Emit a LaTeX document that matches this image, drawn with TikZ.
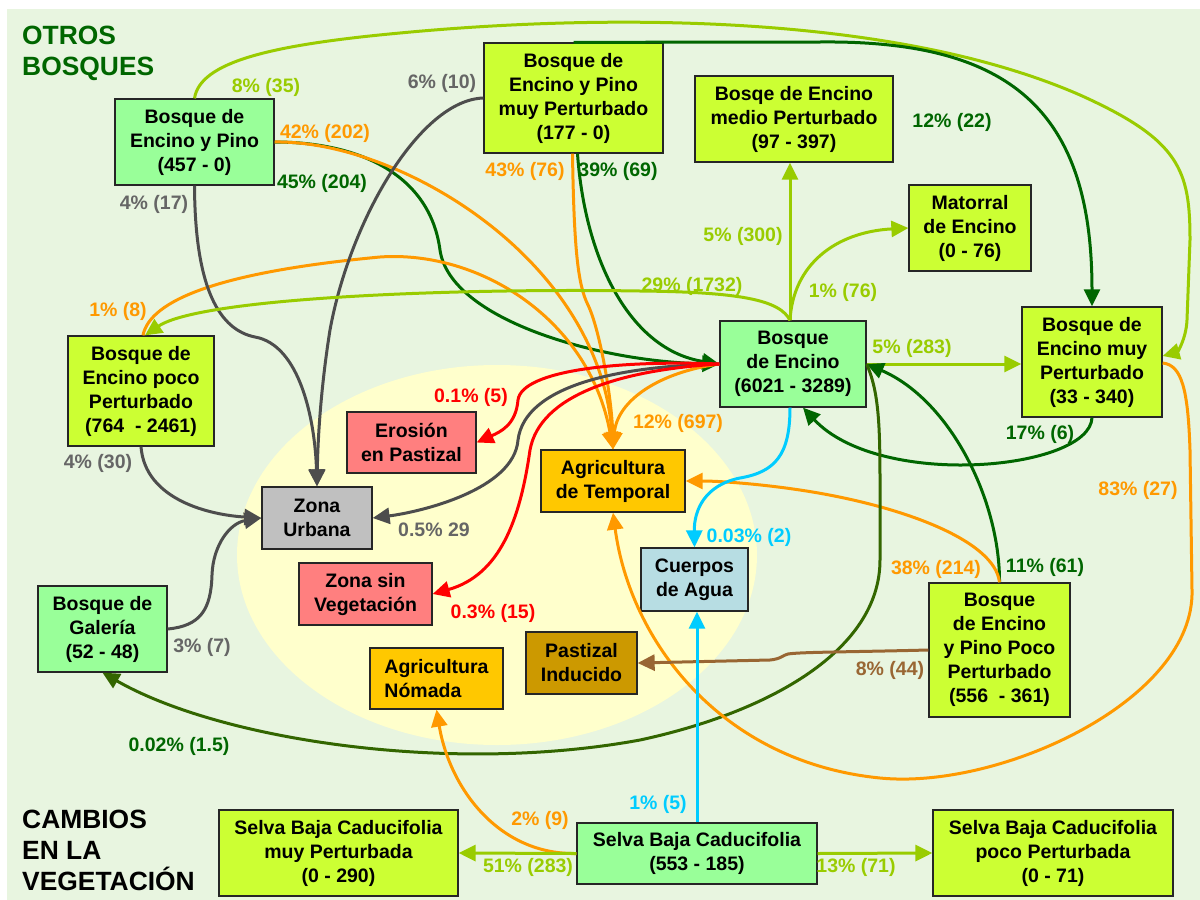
\documentclass[tikz,border=0pt]{standalone}
\usepackage{fontspec}
\setmainfont{Liberation Sans}
\usetikzlibrary{arrows.meta}
\definecolor{bg}{HTML}{E8F5E0}
\definecolor{ell}{HTML}{FFFFCC}
\definecolor{lg}{HTML}{99CC00}
\definecolor{dg}{HTML}{006600}
\definecolor{og}{HTML}{336600}
\definecolor{orng}{HTML}{FF9900}
\definecolor{gry}{HTML}{4D4D4D}
\definecolor{gryl}{HTML}{666666}
\definecolor{rd}{HTML}{FF0000}
\definecolor{cy}{HTML}{00CCFF}
\definecolor{brn}{HTML}{996633}
\definecolor{fgreen}{HTML}{99FF99}
\definecolor{fyg}{HTML}{CCFF33}
\definecolor{fpink}{HTML}{FF7F7F}
\definecolor{famber}{HTML}{FFC800}
\definecolor{fgray}{HTML}{C0C0C0}
\definecolor{fblue}{HTML}{B7DDE3}
\definecolor{fbrown}{HTML}{CC9900}
\tikzset{
 box/.style={draw=black!85, line width=1.3pt, align=center, inner sep=0pt, font=\bfseries\fontsize{19.5}{24}\selectfont},
 conn/.style={line width=3pt, -{Triangle[length=17pt,width=16pt]}},
 lab/.style={font=\bfseries\fontsize{19.5}{24}\selectfont, inner sep=0pt},
 ttl/.style={font=\bfseries\fontsize{26.4}{31}\selectfont, align=left, anchor=north west, inner sep=0pt},
}
\begin{document}
\begin{tikzpicture}[x=1pt,y=-1pt]
\useasboundingbox (0,0) rectangle (1200,900);
\fill[white] (0,0) rectangle (1200,900);
\fill[bg] (7,9) rectangle (1200,900);
\fill[ell] (497,555) ellipse [x radius=260pt, y radius=190pt];

% titles
\node[ttl, text=dg] (t1) at (22,26) {OTROS\\BOSQUES};
\node[ttl, text=black] (t2) at (22,810) {CAMBIOS\\EN LA\\VEGETACIÓN};

% nodes
\node[box, fill=fgreen, minimum width=159pt, minimum height=86pt] (bep) at (194.5,142) {Bosque de\\Encino y Pino\\(457 - 0)};
\node[box, fill=fyg, minimum width=179pt, minimum height=110pt] (bepmp) at (573.5,98) {Bosque de\\Encino y Pino\\muy Perturbado\\(177 - 0)};
\node[box, fill=fyg, minimum width=198pt, minimum height=86pt] (bqm) at (794,119) {Bosqe de Encino\\medio Perturbado\\(97 - 397)};
\node[box, fill=fyg, minimum width=122pt, minimum height=86pt] (mat) at (970,228) {Matorral\\de Encino\\(0 - 76)};
\node[box, fill=fgreen, minimum width=146pt, minimum height=86pt] (be) at (793,364) {Bosque\\de Encino\\(6021 - 3289)};
\node[box, fill=fyg, minimum width=140pt, minimum height=110pt] (bemp) at (1092,362) {Bosque de\\Encino muy\\Perturbado\\(33 - 340)};
\node[box, fill=fyg, minimum width=146pt, minimum height=110pt] (bepp) at (141,391) {Bosque de\\Encino poco\\Perturbado\\(764 \ - 2461)};
\node[box, fill=fpink, minimum width=129pt, minimum height=61pt] (ero) at (411.5,442.5) {Erosión\\en Pastizal};
\node[box, fill=fgray, minimum width=110pt, minimum height=62pt] (zu) at (317,518) {Zona\\Urbana};
\node[box, fill=famber, minimum width=144pt, minimum height=62pt] (agt) at (613,481) {Agricultura\\de Temporal};
\node[box, fill=fblue, minimum width=107pt, minimum height=63pt] (cda) at (694.5,579.5) {Cuerpos\\de Agua};
\node[box, fill=fpink, minimum width=133pt, minimum height=62pt] (zsv) at (365.5,594) {Zona sin\\Vegetación};
\node[box, fill=famber, minimum width=133pt, minimum height=61pt, align=left] (agn) at (436.5,678.5) {Agricultura\\Nómada};
\node[box, fill=fbrown, minimum width=111pt, minimum height=62pt] (pas) at (581.5,663) {Pastizal\\Inducido};
\node[box, fill=fgreen, minimum width=129pt, minimum height=86pt] (gal) at (102.5,629) {Bosque de\\Galería\\(52 - 48)};
\node[box, fill=fyg, minimum width=141pt, minimum height=134pt] (beppp) at (999.5,650) {Bosque\\de Encino\\y Pino Poco\\Perturbado\\(556 \ - 361)};
\node[box, fill=fgreen, minimum width=240pt, minimum height=61pt] (sbc) at (697,853.5) {Selva Baja Caducifolia\\(553 - 185)};
\node[box, fill=fyg, minimum width=239pt, minimum height=86pt] (sbcm) at (338.5,853) {Selva Baja Caducifolia\\muy Perturbada\\(0 - 290)};
\node[box, fill=fyg, minimum width=240pt, minimum height=86pt] (sbcp) at (1053,853) {Selva Baja Caducifolia\\poco Perturbada\\(0 - 71)};

% connectors
\draw[conn, lg] (bep.north) .. controls (200,62) and (270,45) .. (400,33) .. controls (600,14) and (890,12) .. (1080,95) .. controls (1180,140) and (1190,170) .. (1190,240) -- (1187,320) .. controls (1186,340) and (1177,352) .. ([yshift=6pt]bemp.east);
\draw[conn, dg] (bepmp.north) -- (820,42) .. controls (1010,40) and (1092,110) .. (bemp.north);
\draw[conn, dg] (bep.east) .. controls (360,142) and (430,175) .. (440,250) .. controls (450,320) and (600,362) .. (be.west);
\draw[conn, dg] ([xshift=4pt]bepmp.south) .. controls (585,260) and (630,350) .. (be.west);
\draw[conn, orng] (bep.east) .. controls (400,140) and (600,260) .. (agt.north);
\draw[conn, orng] ([xshift=2pt]bepp.north) .. controls (150,300) and (220,272) .. (380,257) .. controls (480,250) and (590,320) .. (agt.north);
\draw[conn, orng] ([xshift=-1pt]bepmp.south) .. controls (574,250) and (578,285) .. (588,305) .. controls (600,330) and (612,400) .. (agt.north);
\draw[conn, orng] (be.west) .. controls (660,372) and (617,400) .. (agt.north);
\draw[conn, gry] (bepmp.west) .. controls (420,100) and (350,220) .. (330,330) .. controls (322,380) and (318,430) .. (zu.north);
\draw[conn, gry] (bep.south) .. controls (195,290) and (220,330) .. (255,337) .. controls (300,345) and (315,420) .. (zu.north);
\draw[conn, gry] (bepp.south) .. controls (145,500) and (210,515) .. (zu.west);
\draw[conn, gry] (gal.east) .. controls (200,626) and (211,610) .. (212,575) .. controls (213,545) and (230,523) .. (zu.west);
\draw[conn, gry] (be.west) .. controls (620,366) and (525,385) .. (518,440) .. controls (514,490) and (420,512) .. (zu.east);
\draw[conn, rd] (be.west) .. controls (620,360) and (522,370) .. (518,400) .. controls (516,425) and (500,432) .. (ero.east);
\draw[conn, rd] (be.west) .. controls (620,370) and (540,395) .. (530,450) .. controls (520,520) and (500,575) .. (zsv.east);
\draw[conn, lg] ([xshift=-3pt]be.north) -- ([xshift=-4pt]bqm.south);
\draw[conn, lg] ([xshift=-3pt]be.north) .. controls (793,265) and (835,232) .. (mat.west);
\draw[conn, lg] ([xshift=-3pt]be.north) .. controls (780,300) and (740,292) .. (640,291) .. controls (450,288) and (200,298) .. ([xshift=4pt]bepp.north);
\draw[conn, lg] (be.east) -- (be.east -| bemp.west);
\draw[conn, dg] (bemp.south) .. controls (1090,470) and (880,490) .. ([xshift=10pt]be.south);
\draw[conn, dg] (beppp.north) .. controls (1000,500) and (950,400) .. (be.east);
\draw[conn, orng] (beppp.north) .. controls (995,540) and (900,505) .. (800,490) .. controls (760,484) and (720,481) .. (agt.east);
\draw[conn, og] (be.east) .. controls (878,390) and (880,420) .. (880,480) -- (880,560) .. controls (880,650) and (770,712) .. (640,740) .. controls (450,775) and (220,740) .. (gal.south);
\draw[conn, orng] ([yshift=-1pt]bemp.east) .. controls (1182,365) and (1188,390) .. (1190,450) -- (1192,590) .. controls (1195,700) and (1000,790) .. (880,778) .. controls (720,762) and (630,640) .. (agt.south);
\draw[conn, brn] (beppp.west) .. controls (850,652) and (800,652) .. (788,654) .. controls (783,655) and (781,659) .. (770,660) -- (pas.east);
\draw[conn, cy] ([xshift=-3pt]be.south) .. controls (790,455) and (775,472) .. (740,478) .. controls (705,485) and (694,510) .. (cda.north);
\draw[conn, cy] (sbc.north) -- (sbc.north |- cda.south);
\draw[conn, orng] (sbc.west) .. controls (500,855) and (450,790) .. (agn.south);
\draw[conn, lg] (sbc.west) -- (sbcm.east);
\draw[conn, lg] (sbc.east) -- (sbcp.west);

% labels
\node[lab, text=lg] (l1) at (266,87) {8\% (35)};
\node[lab, text=orng] (l2) at (325,133) {42\% (202)};
\node[lab, text=dg] (l3) at (322,183) {45\% (204)};
\node[lab, text=gryl] (l4) at (154,204) {4\% (17)};
\node[lab, text=gryl] (l5) at (442,83) {6\% (10)};
\node[lab, text=orng] (l6) at (525,171) {43\% (76)};
\node[lab, text=dg] (l7) at (618,171) {39\% (69)};
\node[lab, text=lg] (l8) at (743,236) {5\% (300)};
\node[lab, text=lg] (l9) at (692,286) {29\% (1732)};
\node[lab, text=dg] (l10) at (952,122) {12\% (22)};
\node[lab, text=lg] (l11) at (843,292) {1\% (76)};
\node[lab, text=orng] (l12) at (118,311) {1\% (8)};
\node[lab, text=gryl] (l13) at (98,463) {4\% (30)};
\node[lab, text=rd] (l14) at (471,397) {0.1\% (5)};
\node[lab, text=orng] (l15) at (678,423) {12\% (697)};
\node[lab, text=gryl] (l16) at (434,530) {0.5\% 29};
\node[lab, text=cy] (l17) at (749,537) {0.03\% (2)};
\node[lab, text=lg] (l18) at (912,348) {5\% (283)};
\node[lab, text=dg] (l19) at (1040,434) {17\% (6)};
\node[lab, text=orng] (l20) at (1138,490) {83\% (27)};
\node[lab, text=orng] (l21) at (936,569) {38\% (214)};
\node[lab, text=dg] (l22) at (1045,567) {11\% (61)};
\node[lab, text=gryl] (l23) at (202,647) {3\% (7)};
\node[lab, text=dg] (l24) at (179,746) {0.02\% (1.5)};
\node[lab, text=rd] (l25) at (493,613) {0.3\% (15)};
\node[lab, text=brn] (l26) at (890,670) {8\% (44)};
\node[lab, text=cy] (l27) at (658,804) {1\% (5)};
\node[lab, text=orng] (l28) at (540,820) {2\% (9)};
\node[lab, text=lg] (l29) at (528,867) {51\% (283)};
\node[lab, text=lg] (l30) at (856,867) {13\% (71)};
\end{tikzpicture}
\end{document}
